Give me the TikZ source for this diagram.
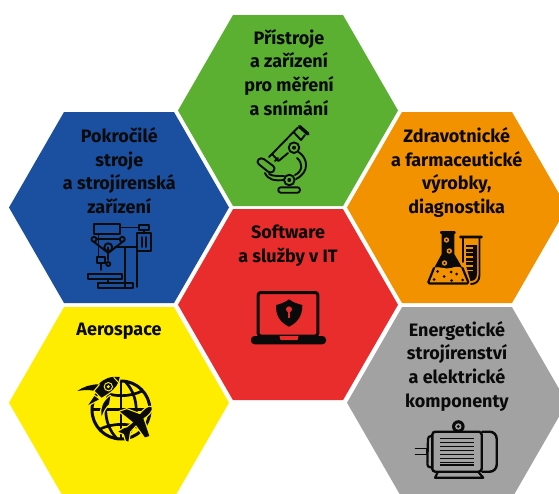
\documentclass[tikz,border=0pt]{standalone}
\usepackage{fontspec}
\setmainfont{Fira Sans}
\definecolor{hgreen}{HTML}{5BB031}
\definecolor{hblue}{HTML}{1B4F9F}
\definecolor{horange}{HTML}{F39200}
\definecolor{hred}{HTML}{E92D2D}
\definecolor{hyellow}{HTML}{FFED00}
\definecolor{hgray}{HTML}{A2A2A2}
\definecolor{ink}{HTML}{0A0A0A}
\tikzset{
 label text/.style={font=\bfseries\fontsize{18}{23.6}\selectfont,align=center,text=ink,inner sep=0pt,anchor=north},
 icon/.style={draw=ink,line width=1.9pt,line cap=round,line join=round},
 iconthick/.style={draw=ink,line width=2.6pt,line cap=round,line join=round},
 haloed/.style={fill=ink,preaction={draw=hyellow,line width=2.4pt,line join=round}},
 zoomed/.style={x=0.33333pt,y=-0.33333pt,shift={(0pt,-290pt)}},
}
\newcommand{\hexag}[3]{\fill[#3] (#1-110,#2) -- (#1-55,#2-95.5) -- (#1+55,#2-95.5) -- (#1+110,#2) -- (#1+55,#2+95.5) -- (#1-55,#2+95.5) -- cycle;}
\begin{document}
\begin{tikzpicture}[x=1pt,y=-1pt]
\useasboundingbox (0,0) rectangle (559,493);
\fill[white] (0,0) rectangle (559,493);
\begin{scope}
\clip (0,0) rectangle (559,493);
\hexag{288}{110.5}{hgreen}
\hexag{119}{207.5}{hblue}
\hexag{457}{207.5}{horange}
\hexag{288}{304.7}{hred}
\hexag{119}{402.7}{hyellow}
\hexag{457}{402.7}{hgray}
\end{scope}
\node[label text] (t1) at (289,29) {Přístroje\\a zařízení\\pro měření\\a snímání};
\node[label text] (t2) at (119.3,127.5) {Pokročilé\\stroje\\a strojírenská\\zařízení};
\node[label text] (t3) at (456.7,127.5) {Zdravotnické\\a farmaceutické\\výrobky,\\diagnostika};
\node[label text] (t4) at (288,225) {Software\\a služby v IT};
\node[label text] (t5) at (119,323) {Aerospace};
\node[label text] (t6) at (457,321) {Energetické\\strojírenství\\a elektrické\\komponenty};
% microscope
\draw[iconthick,line width=3.4pt] (299.5,126.5) -- (308,134);
\draw[icon] (272,154) -- (293.5,132) -- (301,140);
\draw[icon] (272,154) -- (278.5,161) -- (288,153);
\draw[icon] (269,157) -- (272,154) (275,161) -- (278,158);
\draw[icon] (293.5,132) -- (298,127.5) (301,140) -- (305,135);
\draw[icon] (294,147.7) circle (5.3);
\fill[ink] (294,147.7) circle (2);
\draw[icon,rounded corners=3.5pt] (261,157) -- (256,162) -- (271,174) -- (276,168) -- cycle;
\draw[icon] (298.5,152) .. controls (308,158) and (310,172) .. (296,179);
\draw[icon] (297,158) .. controls (303,163) and (303,171) .. (295,175);
\draw[icon] (289.3,180) circle (5.3);
\fill[ink] (289.3,180) circle (2);
\draw[icon] (265,173) .. controls (268,180) and (275,181) .. (284,180);
\draw[icon] (269,174) .. controls (272,176) and (276,176) .. (284,176);
\draw[icon,rounded corners=2.5pt] (278.3,187.3) rectangle (300,192.7);
% drill press
\draw[icon] (94,224.3) rectangle (120,234.3);
\draw[icon] (139,224.7) rectangle (149.3,230);
\draw[icon] (120,227.5) -- (139,227.5);
\draw[icon] (137.3,233.3) rectangle (151,250.7);
\draw[icon] (142,237) -- (142,247) (146,237) -- (146,247);
\draw[icon] (144,230) -- (144,233.3);
\draw[icon] (125,247) -- (125,287) (137.3,250.7) -- (137.3,287);
\draw[icon] (115,247.3) -- (137.3,247.3);
\draw[icon] (94,239.3) circle (2.5) (122.3,239.3) circle (2.5);
\draw[icon] (96.5,239.3) -- (119.8,239.3);
\draw[icon] (108.3,247.3) circle (4);
\draw[icon] (94,242) -- (108.3,253) -- (122.3,242);
\draw[icon] (108.3,247.3) -- (108.3,260);
\draw[icon] (98.5,234.3) -- (98.5,256);
\draw[icon] (97,256.7) rectangle (105,262.7);
\draw[icon] (101,262.7) -- (101,270);
\draw[icon] (108.3,264) circle (2);
\draw[icon] (87.7,274.3) rectangle (121.7,279.3);
\draw[icon] (108.3,279.3) -- (108.3,283);
\draw[icon] (98.3,283.3) rectangle (132.7,287.7);
\draw[icon] (125,283.3) -- (125,287.7);
% flask
\fill[ink,rounded corners=1pt] (440,231) rectangle (455.7,233.8);
\fill[ink] (441.7,233) -- (454.3,233) -- (454.3,254) -- (463.5,270) -- (433,270) -- (441.7,254) -- cycle;
\fill[horange] (433,268) .. controls (440,265.5) and (445,270) .. (451,268) .. controls (455,266.5) and (460,266) .. (463.3,269) -- (468,282) -- (429,282) -- cycle;
\draw[iconthick,line width=2.2pt,rounded corners=1.5pt] (434,268) -- (427.8,283.4) -- (468.8,283.4) -- (462.5,268);
\foreach \px/\py/\pr in {446.5/240/2.7,449.3/251/2.7,444.5/263/2.7}{
  \fill[horange] (\px,\py) circle (\pr); \fill[ink] (\px,\py) circle (1.1);}
\foreach \px/\py in {437.5/271.5,451/272,456.5/274,444/276.5,434/279.5,451.5/280.5,462.5/280}{
  \fill[ink] (\px,\py) circle (1.5);}
% test tube
\fill[ink,rounded corners=1pt] (459.3,235.6) rectangle (482.7,238.4);
\draw[icon] (479.5,237) -- (479.5,275) .. controls (479.5,281) and (476,284) .. (471,284);
\draw[icon] (462.7,237) -- (462.7,262);
\fill[ink] (466,245) -- (477,245) -- (477,274) .. controls (477,279) and (474,281) .. (470.5,281) -- (469,276) -- (466,266) -- cycle;
\foreach \py in {248,252.5,257,261.5,266,270.5}{
  \fill[horange] (466,\py-0.6) rectangle (472.5,\py+0.6);}
% laptop
\draw[ink,line width=3pt,rounded corners=2.5pt] (258.2,292.5) rectangle (317.8,336);
\fill[ink,rounded corners=3.5pt] (251,336) rectangle (326,344.3);
\fill[hred] (279.5,336) -- (298.5,336) -- (297.5,340) -- (280.5,340) -- cycle;
\fill[ink] (289,299.3) .. controls (293,302.5) and (298,304) .. (302.3,305) .. controls (302.5,315) and (298,322.5) .. (289,326.7) .. controls (280,322.5) and (275.5,315) .. (276,305) .. controls (280.5,304) and (285,302.5) .. (289,299.3) -- cycle;
\fill[hred] (289,309.3) circle (3);
\fill[hred] (287.7,310) rectangle (290.3,318);
% globe, rocket and plane, written in the coordinates of the enlarged crop
\begin{scope}[zoomed]
\draw[ink,line width=3pt] (363,360) circle (87);
\draw[ink,line width=2.7pt] (375,274) .. controls (420,320) and (420,400) .. (375,446);
\draw[ink,line width=2.7pt] (351,274) .. controls (306,320) and (306,400) .. (351,446);
\draw[ink,line width=2.7pt] (363,273) -- (363,447);
\draw[ink,line width=2.7pt] (276,358) -- (450,358);
\draw[ink,line width=2.7pt] (298,302) .. controls (340,322) and (390,322) .. (428,302);
\draw[ink,line width=2.7pt] (298,418) .. controls (340,398) and (390,398) .. (428,418);
% rocket
\path[haloed] (359,261) .. controls (335,258) and (312,264) .. (296,283) -- (284,302) -- (305,323) -- (325,310) .. controls (345,296) and (358,280) .. (359,261) -- cycle;
\fill[hyellow] (325,290) circle (14);
\fill[ink] (325,290) circle (10.5);
\fill[hyellow] (325,290) circle (5);
\draw[hyellow,line width=1pt] (341,262) -- (358,280);
\path[haloed] (232,303) .. controls (250,290) and (272,283) .. (296,283) -- (280,302) .. controls (265,299) and (248,300) .. (232,303) -- cycle;
\path[haloed] (305,378) .. controls (300,355) and (310,332) .. (331,318) -- (327,342) .. controls (316,352) and (310,364) .. (305,378) -- cycle;
\path[haloed] (265,345) -- (283,318) -- (297,328) -- cycle;
% plane
\path[haloed] (455,352) .. controls (447,346) and (432,358) .. (420,373)
 -- (380,358) -- (360,365) -- (400,397) -- (382,412) -- (372,415) -- (355,425)
 -- (372,432) -- (378,452) -- (385,455) -- (390,425) -- (408,405)
 -- (435,442) -- (448,438) -- (430,385) .. controls (445,375) and (458,362) .. (455,352) -- cycle;
\end{scope}
% motor
\draw[ink,line width=2.4pt,rounded corners=3pt] (432.3,431.7) rectangle (481.7,471.7);
\draw[ink,line width=2.4pt,rounded corners=7pt] (481.7,431.7) -- (496.7,431.7) -- (496.7,471.7) -- (481.7,471.7);
\draw[ink,line width=2.2pt,rounded corners=3pt] (432.3,436) -- (428,436) -- (427.3,467.3) -- (432.3,467.3);
\draw[icon] (415.5,448.5) -- (427.3,448.5) -- (427.3,454.5) -- (415.5,454.5);
\foreach \py in {438.3,442.3,446.3,450.3,454.3,458.3,462.3,464.8}{
  \draw[ink,line width=1.4pt] (440,\py) -- (474,\py);}
\fill[ink] (458.3,426.5) circle (6.3);
\fill[hgray] (458.3,426.5) circle (3.2);
\fill[ink] (458.3,426.5) circle (1.6);
\draw[ink,line width=2.2pt,line join=round] (438,471.7) -- (435,477.7) -- (483.3,477.7) -- (478,471.7);
\end{tikzpicture}
\end{document}
